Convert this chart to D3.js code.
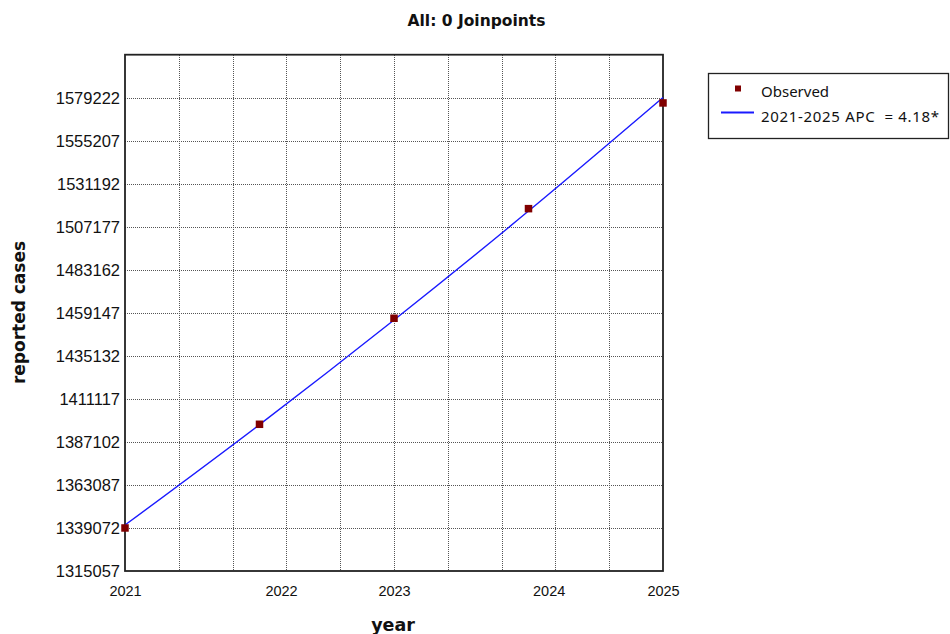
<!DOCTYPE html>
<html>
<head>
<meta charset="utf-8">
<script src="https://cdn.jsdelivr.net/npm/d3@7"></script>
<style>
  html, body { margin: 0; padding: 0; background: #fff; }
  svg { display: block; }
</style>
</head>
<body>
<svg id="chart" width="950" height="634"></svg>
<script>
// Observed reported cases by year
const years = [2021, 2022, 2023, 2024, 2025];
const observed = [1339072, 1396948, 1456124, 1517308, 1576311];

// Fitted log-linear trend, 2021-2025 (APC = 4.18%)
const fitted = [1340700, 1396741, 1455125, 1515949, 1579316];
const apcLabel = "2021-2025 APC  = 4.18*";

// Axis ticks
const yTicks = [1315057, 1339072, 1363087, 1387102, 1411117, 1435132,
                1459147, 1483162, 1507177, 1531192, 1555207, 1579222];
const yTop = 1603237;
const xGrid = [2021, 2021.4, 2021.8, 2022.2, 2022.6, 2023, 2023.4, 2023.8, 2024.2, 2024.6, 2025];
const xTickPos = [2021, 2022.16, 2023, 2024.15, 2025];
const xTickText = ["2021", "2022", "2023", "2024", "2025"];

const svg = d3.select("#chart");
const plot = { left: 125, right: 663, top: 54.7, bottom: 571 };

const x = d3.scaleLinear().domain([2021, 2025]).range([plot.left, plot.right]);
const y = d3.scaleLinear().domain([yTicks[0], yTop]).range([plot.bottom, plot.top]);

// Dotted grid
const grid = svg.append("g").attr("stroke", "#555").attr("stroke-width", 1)
  .attr("stroke-dasharray", "1,1").attr("shape-rendering", "crispEdges");
grid.selectAll("line.v").data(xGrid.slice(1, -1)).join("line")
  .attr("x1", d => Math.round(x(d)) + 0.5).attr("x2", d => Math.round(x(d)) + 0.5)
  .attr("y1", plot.top).attr("y2", plot.bottom);
grid.selectAll("line.h").data(yTicks.slice(1)).join("line")
  .attr("x1", plot.left).attr("x2", plot.right)
  .attr("y1", d => Math.round(y(d)) + 0.5).attr("y2", d => Math.round(y(d)) + 0.5);

// Plot frame
svg.append("rect")
  .attr("x", plot.left).attr("y", plot.top)
  .attr("width", plot.right - plot.left).attr("height", plot.bottom - plot.top)
  .attr("fill", "none").attr("stroke", "#222").attr("stroke-width", 1.8);

// Y axis labels
const yAxis = d3.axisLeft(y).tickValues(yTicks).tickSize(0).tickPadding(5).tickFormat(d3.format("d"));
svg.append("g").attr("transform", `translate(${plot.left},0)`).call(yAxis)
  .call(g => g.select(".domain").remove())
  .selectAll("text")
  .attr("font-family", "'Liberation Sans', Arial, sans-serif")
  .attr("font-size", 16.5).attr("fill", "#111");

// X axis labels
const xAxis = d3.axisBottom(x).tickValues(xTickPos).tickSize(0).tickPadding(15)
  .tickFormat((d, i) => xTickText[i]);
svg.append("g").attr("transform", `translate(0,${plot.bottom})`).call(xAxis)
  .call(g => g.select(".domain").remove())
  .selectAll("text")
  .attr("font-family", "'Liberation Sans', Arial, sans-serif")
  .attr("font-size", 14.5).attr("fill", "#111");

// Trend line
const line = d3.line().x((d, i) => x(years[i])).y(d => y(d)).curve(d3.curveMonotoneX);
svg.append("path").datum(fitted).attr("d", line)
  .attr("fill", "none").attr("stroke", "#1a1aff").attr("stroke-width", 1.4);

// Observed markers
svg.selectAll("rect.obs").data(observed).join("rect")
  .attr("class", "obs")
  .attr("x", (d, i) => x(years[i]) - 3.75).attr("y", d => y(d) - 3.75)
  .attr("width", 7.5).attr("height", 7.5).attr("fill", "#800000");

// Title
svg.append("text").attr("x", 476.5).attr("y", 26)
  .attr("text-anchor", "middle")
  .attr("font-family", "'DejaVu Sans', Verdana, sans-serif").attr("font-weight", "bold")
  .attr("font-size", 15.5).attr("fill", "#111")
  .text("All: 0 Joinpoints");

// Axis titles
svg.append("text").attr("x", 393).attr("y", 631)
  .attr("text-anchor", "middle")
  .attr("font-family", "'DejaVu Sans', Verdana, sans-serif").attr("font-weight", "bold")
  .attr("font-size", 17.5).attr("fill", "#111")
  .text("year");
svg.append("text")
  .attr("transform", "translate(25,312.5) rotate(-90)")
  .attr("text-anchor", "middle")
  .attr("font-family", "'DejaVu Sans', Verdana, sans-serif").attr("font-weight", "bold")
  .attr("font-size", 17).attr("fill", "#111")
  .text("reported cases");

// Legend
const legend = svg.append("g");
legend.append("rect").attr("x", 708.5).attr("y", 73.5).attr("width", 240).attr("height", 65)
  .attr("fill", "#fff").attr("stroke", "#222").attr("stroke-width", 1.3);
legend.append("rect").attr("x", 735).attr("y", 85.5).attr("width", 6).attr("height", 6).attr("fill", "#800000");
legend.append("text").attr("x", 761).attr("y", 97)
  .attr("font-family", "'Noto Sans', 'Open Sans', sans-serif").attr("font-size", 15).attr("fill", "#111")
  .text("Observed");
legend.append("line").attr("x1", 721).attr("x2", 754).attr("y1", 112.5).attr("y2", 112.5)
  .attr("stroke", "#1a1aff").attr("stroke-width", 2);
legend.append("text").attr("x", 761).attr("y", 122)
  .attr("font-family", "'Noto Sans', 'Open Sans', sans-serif").attr("font-size", 15).attr("fill", "#111")
  .attr("xml:space", "preserve").style("white-space", "pre")
  .attr("textLength", 178).attr("lengthAdjust", "spacing")
  .text(apcLabel);
</script>
</body>
</html>
